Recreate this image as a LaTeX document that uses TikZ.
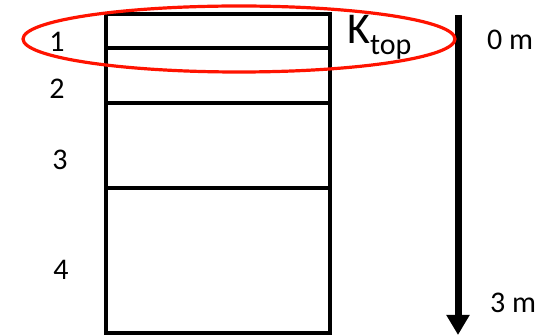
\documentclass[tikz,border=0pt]{standalone}
\usepackage{fontspec}
\setmainfont{Carlito}
\usetikzlibrary{arrows.meta}
\begin{document}
\begin{tikzpicture}[x=1pt,y=-1pt,
  wall/.style={line width=4.5pt,line cap=rect},
  lab/.style={font=\fontsize{30}{32}\selectfont,inner sep=0pt}]
\useasboundingbox (0,0) rectangle (549,336);
\coordinate (tl) at (106,14);
\coordinate (br) at (330,333);
\draw[wall] (tl) rectangle (br);
\draw[wall] (106,48) -- (330,48);
\draw[wall] (106,103) -- (330,103);
\draw[wall] (106,188) -- (330,188);
\node[lab] (l1) at (57,42) {1};
\node[lab] (l2) at (57,89) {2};
\node[lab] (l3) at (60,160) {3};
\node[lab] (l4) at (61,270) {4};
\node[inner sep=0pt,anchor=base west,font=\fontsize{44}{46}\selectfont] (k) at (347,44) {K\textsubscript{\fontsize{30}{32}\selectfont top}};
\coordinate (atop) at (458,15);
\coordinate (abot) at (458,335);
\draw[line width=7pt,-{Triangle[width=22pt,length=20pt]}] (atop) -- (abot);
\node[lab] (m0) at (510,40) {0 m};
\node[lab] (m3) at (513,303) {3 m};
\draw[red!85!orange,line width=3.2pt] (239,39) ellipse [x radius=216,y radius=33];
\end{tikzpicture}
\end{document}
